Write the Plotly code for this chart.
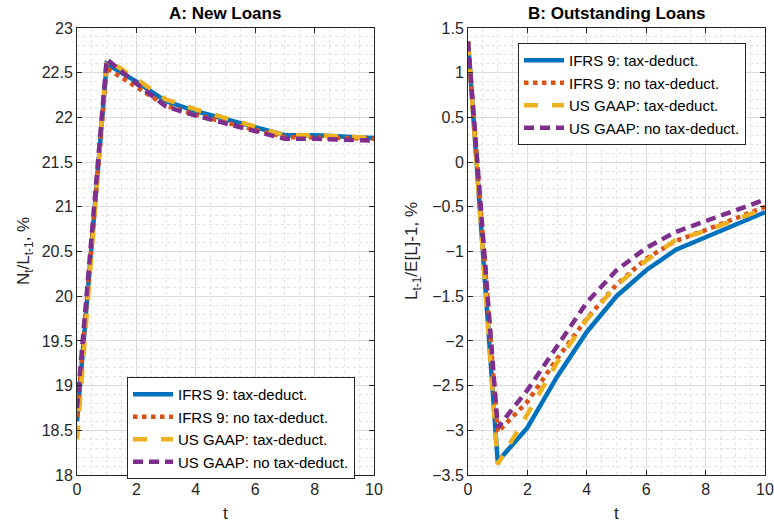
import plotly.graph_objects as go

t = list(range(11))

# Panel A: New loans N_t/L_{t-1}, %
a_ifrs_tax = [18.60, 22.60, 22.40, 22.18, 22.07, 21.98, 21.89, 21.80, 21.80, 21.79, 21.77]
a_ifrs_notax = [18.65, 22.55, 22.34, 22.13, 22.03, 21.94, 21.86, 21.78, 21.78, 21.77, 21.76]
a_gaap_tax = [18.40, 22.65, 22.43, 22.20, 22.09, 21.99, 21.90, 21.80, 21.80, 21.79, 21.77]
a_gaap_notax = [18.75, 22.65, 22.38, 22.12, 22.02, 21.93, 21.84, 21.76, 21.76, 21.75, 21.74]

# Panel B: Outstanding loans L_{t-1}/E[L]-1, %
b_ifrs_tax = [1.35, -3.35, -2.97, -2.40, -1.90, -1.50, -1.21, -0.98, -0.84, -0.70, -0.56]
b_ifrs_notax = [1.35, -3.02, -2.68, -2.20, -1.75, -1.37, -1.08, -0.88, -0.76, -0.63, -0.50]
b_gaap_tax = [1.35, -3.38, -2.82, -2.24, -1.76, -1.38, -1.10, -0.87, -0.77, -0.65, -0.52]
b_gaap_notax = [1.35, -2.97, -2.55, -2.07, -1.57, -1.21, -0.96, -0.78, -0.66, -0.54, -0.42]

names = ["IFRS 9: tax-deduct.", "IFRS 9: no tax-deduct.",
         "US GAAP: tax-deduct.", "US GAAP: no tax-deduct."]
colors = ["#0072BD", "#D95319", "#EDB120", "#7E2F8E"]
dashes = ["solid", "dot", "14px,14px", "10px,6px"]
widths = [4.5, 4.5, 4.5, 4.5]

FONT = "Liberation Sans, Arial, sans-serif"
fig = go.Figure()

series_a = [a_ifrs_tax, a_ifrs_notax, a_gaap_tax, a_gaap_notax]
series_b = [b_ifrs_tax, b_ifrs_notax, b_gaap_tax, b_gaap_notax]

for i in range(4):
    fig.add_trace(go.Scatter(x=t, y=series_a[i], mode="lines", name=names[i],
                             line=dict(color=colors[i], dash=dashes[i], width=widths[i]),
                             xaxis="x", yaxis="y", legend="legend"))
for i in range(4):
    fig.add_trace(go.Scatter(x=t, y=series_b[i], mode="lines", name=names[i],
                             line=dict(color=colors[i], dash=dashes[i], width=widths[i]),
                             xaxis="x2", yaxis="y2", legend="legend2"))

W, H = 774, 525
ydom = [(H - 475) / H, (H - 28) / H]
axcolor = "#262626"
common_x = dict(range=[0, 10], dtick=2, tick0=0, showgrid=True, gridcolor="#dcdcdc",
                gridwidth=1, ticks="inside", ticklen=5, tickcolor=axcolor,
                showline=True, linecolor=axcolor, linewidth=1, mirror="ticks",
                zeroline=False, automargin=False,
                tickfont=dict(family=FONT, size=16, color=axcolor),
                minor=dict(dtick=0.5, showgrid=True, gridcolor="#e3e3e3", griddash="dot",
                           gridwidth=1))
common_y = dict(dtick=0.5, showgrid=True, gridcolor="#dcdcdc",
                gridwidth=1, ticks="inside", ticklen=5, tickcolor=axcolor,
                showline=True, linecolor=axcolor, linewidth=1, mirror="ticks",
                zeroline=False, automargin=False,
                tickfont=dict(family=FONT, size=16, color=axcolor),
                minor=dict(dtick=0.1, showgrid=True, gridcolor="#e3e3e3", griddash="dot",
                           gridwidth=1))

legend_common = dict(xanchor="left", yanchor="top",
                     bgcolor="white", bordercolor="#262626", borderwidth=1,
                     font=dict(family=FONT, size=15, color="#000"),
                     tracegroupgap=0, itemwidth=40)


def label(text, x, y, size, color, bold=False, angle=0):
    return dict(text=f"<b>{text}</b>" if bold else text, x=x / W, y=(H - y) / H,
                xref="paper", yref="paper", showarrow=False, textangle=angle,
                xanchor="center", yanchor="middle",
                font=dict(family=FONT, size=size, color=color))


fig.update_layout(
    width=W, height=H, margin=dict(l=0, r=0, t=0, b=0, pad=0, autoexpand=False),
    paper_bgcolor="white", plot_bgcolor="white",
    font=dict(family=FONT, size=15, color=axcolor),
    xaxis=dict(domain=[77 / W, 374 / W], anchor="y", **common_x),
    yaxis=dict(domain=ydom, anchor="x", range=[18, 23], tick0=18, **common_y),
    xaxis2=dict(domain=[468 / W, 765 / W], anchor="y2", **common_x),
    yaxis2=dict(domain=ydom, anchor="x2", range=[-3.5, 1.5], tick0=-3.5, **common_y),
    legend=dict(x=127 / W, y=(H - 377) / H, **legend_common),
    legend2=dict(x=518 / W, y=(H - 43) / H, **legend_common),
    showlegend=True,
    annotations=[
        label("A: New Loans", (77 + 374) / 2, 14, 17, "#000", bold=True),
        label("B: Outstanding Loans", (468 + 765) / 2, 14, 17, "#000", bold=True),
        label("t", (77 + 374) / 2, 513, 17, axcolor),
        label("t", (468 + 765) / 2, 513, 17, axcolor),
        label("N<sub>t</sub>/L<sub>t-1</sub>, %", 25, 251, 17, axcolor, angle=-90),
        label("L<sub>t-1</sub>/E[L]-1, %", 413, 251, 17, axcolor, angle=-90),
    ],
)

fig.write_html("out.html")
